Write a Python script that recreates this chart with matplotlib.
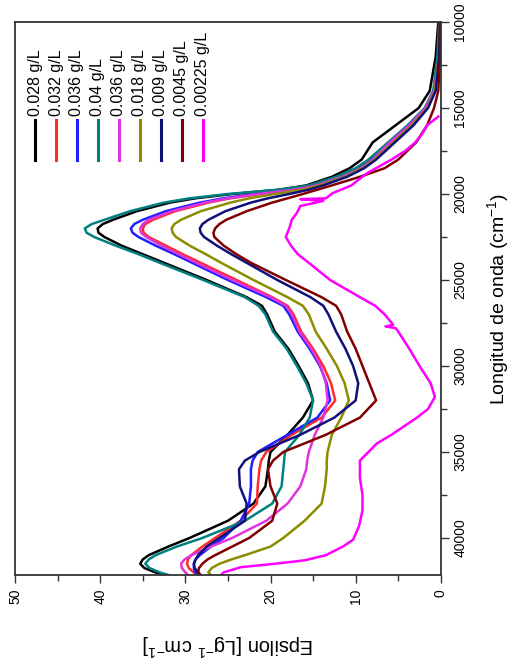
import numpy as np
import matplotlib.pyplot as plt

plt.rcParams['font.family'] = ['Liberation Sans', 'DejaVu Sans']
plt.rcParams['mathtext.default'] = 'regular'

# numero de onda (cm-1), rejilla comun
wn = [10000, 12000, 14000, 15000, 16000, 17000, 18000, 18500, 19000, 19500,
      19750, 20000, 20250, 20500, 21000, 21500, 21750, 22000, 22250, 22500,
      23000, 23500, 24000, 25000, 26000, 26500, 27000, 28000, 29000, 30000,
      31000, 32000, 33000, 34000, 35000, 35500, 36000, 37000, 38000, 39000,
      40000, 40500, 41000, 41250, 41500, 41750, 42000, 42150]

eps_0028 = [0.3, 0.6, 1.3, 2.6, 5.3, 8.0, 9.3, 10.7, 12.8, 15.8,
            19.0, 24.5, 28.8, 31.8, 35.7, 38.5, 39.7, 40.3, 40.2, 39.5,
            37.5, 35.0, 32.5, 27.5, 22.8, 21.0, 20.4, 19.5, 17.9, 16.7,
            15.6, 15.0, 16.2, 18.0, 20.0, 20.2, 20.3, 20.6, 22.0, 25.0,
            29.5, 32.0, 34.3, 35.0, 35.3, 34.8, 33.5, 32.5]
eps_0032 = [0.1, 0.2, 0.8, 1.8, 3.7, 6.0, 8.0, 9.4, 11.5, 14.5,
            17.0, 21.2, 24.7, 27.3, 31.2, 33.8, 34.7, 35.0, 34.9, 34.3,
            32.3, 30.3, 28.2, 24.0, 19.8, 18.0, 17.3, 16.4, 15.0, 13.8,
            12.9, 12.4, 14.0, 17.5, 20.5, 21.1, 21.3, 21.5, 21.6, 23.5,
            26.5, 28.0, 29.3, 29.7, 29.8, 29.6, 29.0, 28.7]
eps_0036a = [0.1, 0.2, 0.8, 1.8, 3.7, 6.0, 8.2, 9.6, 11.8, 14.8,
             17.5, 22.0, 25.5, 28.3, 32.3, 35.0, 36.0, 36.4, 36.2, 35.5,
             33.5, 31.3, 29.2, 25.0, 20.5, 18.5, 17.8, 16.8, 15.4, 14.2,
             13.4, 13.0, 14.5, 18.0, 21.5, 22.1, 22.3, 22.3, 22.5, 23.5,
             25.5, 27.0, 28.3, 28.8, 29.0, 29.0, 28.8, 28.5]
eps_004 = [0.2, 0.4, 0.9, 1.9, 3.9, 6.2, 8.5, 10.0, 12.3, 15.5,
           19.0, 25.0, 29.5, 32.5, 36.5, 39.5, 41.0, 41.8, 41.6, 40.7,
           38.2, 35.5, 33.0, 27.9, 23.0, 21.4, 20.6, 19.7, 18.1, 16.9,
           15.8, 15.0, 15.4, 16.6, 18.3, 18.4, 18.5, 18.7, 19.8, 23.0,
           28.0, 31.0, 33.5, 34.3, 34.7, 34.2, 33.0, 32.0]
eps_0036b = [0.1, 0.2, 0.8, 1.8, 3.7, 6.0, 8.0, 9.4, 11.6, 14.6,
             17.2, 21.5, 25.0, 27.7, 31.6, 34.3, 35.0, 35.3, 35.2, 34.6,
             32.8, 30.8, 28.7, 24.5, 20.0, 18.2, 17.5, 16.6, 15.2, 14.1,
             13.5, 13.3, 13.8, 14.8, 15.5, 15.7, 15.8, 16.5, 18.0, 20.5,
             24.5, 27.0, 29.3, 30.1, 30.5, 30.4, 30.0, 29.7]
eps_0018 = [0.1, 0.2, 0.7, 1.6, 3.4, 5.6, 7.8, 9.2, 11.3, 14.2,
            16.3, 19.5, 22.5, 24.7, 28.2, 30.5, 31.3, 31.6, 31.5, 31.1,
            29.5, 27.6, 25.8, 22.0, 18.0, 16.2, 15.5, 14.7, 13.4, 12.2,
            11.3, 10.8, 11.7, 12.8, 13.3, 13.4, 13.4, 13.6, 14.0, 16.0,
            18.5, 20.0, 23.0, 24.6, 26.0, 26.9, 27.3, 27.0]
eps_0009 = [0.1, 0.2, 0.6, 1.5, 3.2, 5.4, 7.6, 9.0, 11.0, 13.8,
            15.5, 17.8, 20.3, 22.3, 25.3, 27.3, 28.0, 28.3, 28.2, 27.8,
            26.3, 24.6, 22.8, 19.2, 15.3, 13.8, 13.2, 12.3, 11.2, 10.3,
            9.7, 10.0, 12.5, 16.5, 21.3, 23.0, 23.7, 23.6, 22.8, 23.0,
            26.0, 27.5, 28.5, 28.8, 29.0, 28.9, 28.5, 28.2]
eps_00045 = [0.1, 0.1, 0.3, 0.8, 1.6, 2.9, 5.0, 6.6, 9.5, 12.8,
             14.5, 16.2, 18.0, 19.8, 22.8, 25.2, 26.0, 26.5, 26.7, 26.6,
             25.5, 24.0, 22.3, 18.2, 14.0, 12.3, 11.7, 11.0, 10.0, 9.2,
             8.4, 7.6, 9.5, 13.5, 18.5, 19.7, 20.3, 20.0, 19.2, 19.8,
             22.5, 24.5, 26.5, 27.4, 28.0, 28.4, 28.5, 28.2]

wn_00225 = [15500, 16000, 16500, 17000, 17500, 18000, 18800, 19500, 19950,
            20250, 20300, 20400, 20700, 21100, 21500, 22000, 22500, 23000,
            23500, 24000, 25000, 26000, 26500, 27000, 27600, 27700, 27800,
            28000, 29000, 30000, 31000, 31800, 32500, 33000, 34000, 34500,
            35500, 36500, 37500, 38400, 39300, 40100, 40500, 41000, 41300,
            41500, 41700, 42000, 42150]
eps_00225 = [0.3, 1.6, 2.2, 3.0, 4.2, 5.8, 8.7, 10.5, 12.7,
             13.5, 16.5, 13.8, 16.5, 16.9, 17.5, 17.8, 18.2, 17.6,
             16.8, 15.5, 13.0, 9.5, 7.7, 6.6, 5.6, 6.5, 5.3,
             5.0, 3.7, 2.5, 1.2, 0.7, 1.5, 2.8, 5.8, 7.5,
             9.5, 9.5, 9.2, 9.2, 9.6, 10.3, 11.5, 13.5, 16.0,
             19.5, 23.5, 25.5, 25.8]

labels = ['0.028 g/L', '0.032 g/L', '0.036 g/L', '0.04 g/L', '0.036 g/L',
          '0.018 g/L', '0.009 g/L', '0.0045 g/L', '0.00225 g/L']
colors = ['#000000', '#ff2a2a', '#1f1fff', '#008080', '#e033e0',
          '#8c8c00', '#10107a', '#800000', '#ff00ff']

series = [(wn, eps_0028), (wn, eps_0032), (wn, eps_0036a), (wn, eps_004),
          (wn, eps_0036b), (wn, eps_0018), (wn, eps_0009), (wn, eps_00045),
          (wn_00225, eps_00225)]

fig = plt.figure(figsize=(5.10, 6.67), dpi=100)
ax = fig.add_axes([0.0294, 0.138, 0.835, 0.829])

# grafico girado: epsilon en horizontal, numero de onda en vertical
for (x, y), c in zip(series, colors):
    ax.plot(y, x, color=c, lw=1.8)

ax.set_xlim(50, 0)
ax.set_ylim(42150, 10000)

ax.set_xticks(np.arange(0, 51, 10))
ax.set_xticks(np.arange(5, 50, 10), minor=True)
ax.set_yticks(np.arange(10000, 41000, 5000))
ax.set_yticks(np.arange(12500, 42000, 5000), minor=True)

ax.yaxis.tick_right()
ax.yaxis.set_label_position('right')
ax.tick_params(which='both', direction='out', width=1, color='#333333')
ax.tick_params(which='major', length=6)
ax.tick_params(which='minor', length=4)
ax.tick_params(axis='x', labelrotation=90, labelsize=10, pad=4)
ax.tick_params(axis='y', labelrotation=90, labelsize=10, pad=3)
for lab in ax.get_yticklabels():
    lab.set_va('center')

for s in ax.spines.values():
    s.set_linewidth(1.3)
    s.set_color('#333333')

ax.set_xlabel(r'Epsilon [Lg$^{-1}$ cm$^{-1}$]', fontsize=14.5, rotation=180,
              labelpad=20)
ax.set_ylabel(r'Longitud de onda (cm$^{-1}$)', fontsize=14, rotation=90,
              labelpad=13)

# leyenda vertical dibujada a mano
for i, (lab, c) in enumerate(zip(labels, colors)):
    xa = 0.047 + i * 0.0493
    ax.plot([xa, xa], [0.75, 0.823], color=c, lw=2.2,
            transform=ax.transAxes)
    ax.text(xa, 0.83, lab, rotation=90, ha='center', va='bottom',
            fontsize=11.5, transform=ax.transAxes)

fig.savefig('out.png', dpi=100)
